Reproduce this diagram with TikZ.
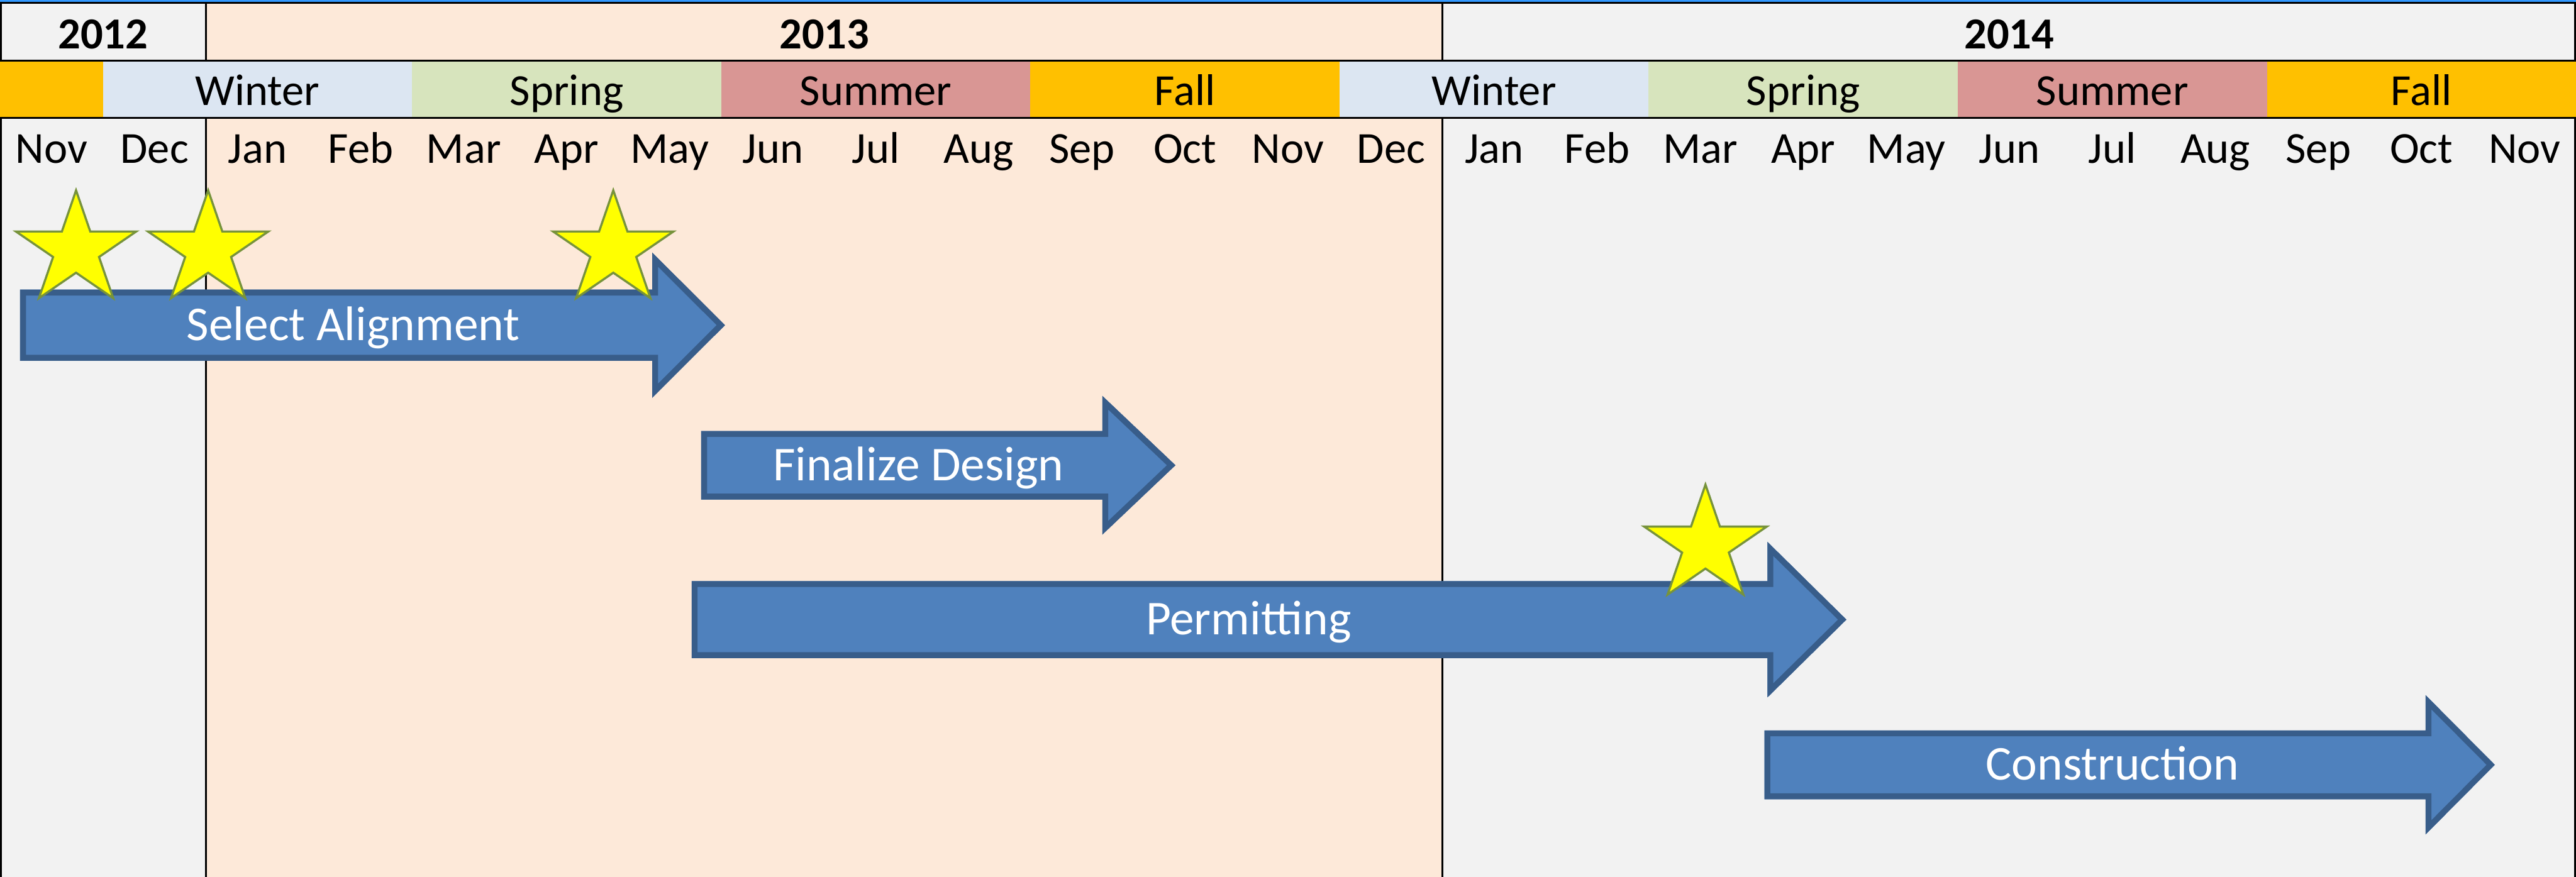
\documentclass[tikz,border=0pt]{standalone}
\usepackage{fontspec}
\setmainfont{Carlito}
\definecolor{topblue}{HTML}{3399FF}
\definecolor{greybg}{HTML}{F2F2F2}
\definecolor{peachbg}{HTML}{FDE9D9}
\definecolor{fallc}{HTML}{FFC000}
\definecolor{winterc}{HTML}{DCE6F2}
\definecolor{springc}{HTML}{D7E4BD}
\definecolor{summerc}{HTML}{D99694}
\definecolor{barfillc}{HTML}{4F81BD}
\definecolor{barlinec}{HTML}{385D8A}
\definecolor{starfillc}{HTML}{FFFF00}
\definecolor{starlinec}{HTML}{77933C}

\tikzset{
  monthlbl/.style={anchor=base, inner sep=0pt, font=\fontsize{27}{32}\selectfont},
  seasonlbl/.style={anchor=base, inner sep=0pt, font=\fontsize{27}{32}\selectfont},
  yearlbl/.style={anchor=base, inner sep=0pt, font=\fontsize{27}{32}\selectfont\bfseries},
  barlbl/.style={anchor=base, inner sep=0pt, text=white, font=\fontsize{29.6}{34}\selectfont},
  gridline/.style={black, line width=1.2pt},
  borderline/.style={black, line width=1.1pt},
  starstyle/.style={fill=starfillc, draw=starlinec, line width=1.3pt, line join=miter},
}

% block arrow: left x, head base x, tip x, centre y, half body height, half head height
\newcommand\blockarrow[6]{%
  \begin{scope}
    \clip (#1,#4-#5) -- (#2,#4-#5) -- (#2,#4-#6) -- (#3,#4) -- (#2,#4+#6) -- (#2,#4+#5) -- (#1,#4+#5) -- cycle;
    \fill[barfillc] (#1,#4-#5) -- (#2,#4-#5) -- (#2,#4-#6) -- (#3,#4) -- (#2,#4+#6) -- (#2,#4+#5) -- (#1,#4+#5) -- cycle;
    \draw[barlinec, line width=7.2pt, line join=miter] (#1,#4-#5) -- (#2,#4-#5) -- (#2,#4-#6) -- (#3,#4) -- (#2,#4+#6) -- (#2,#4+#5) -- (#1,#4+#5) -- cycle;
  \end{scope}}

% five-pointed milestone star: centre x, centre y, outer radius
\newcommand\milestar[3]{%
  \begin{scope}[shift={(#1,#2)}, xscale=1.06, yscale=-1]
    \draw[starstyle] (90:#3) \foreach \k in {1,...,9}{ -- ({90+36*\k}:{(1-0.618*mod(\k,2))*#3}) } -- cycle;
  \end{scope}}

\begin{document}
\begin{tikzpicture}[x=1pt, y=-1pt]
\useasboundingbox (0,0) rectangle (1568,534);

% backgrounds
\fill[topblue] (0,0) rectangle (1568,1.2);
\fill[greybg]  (0,1.2) rectangle (125.44,534);
\fill[peachbg] (125.44,1.2) rectangle (878.08,534);
\fill[greybg]  (878.08,1.2) rectangle (1568,534);

% season band
\foreach \a/\b/\c in {0/1/fallc, 1/4/winterc, 4/7/springc, 7/10/summerc, 10/13/fallc,
                      13/16/winterc, 16/19/springc, 19/22/summerc, 22/25/fallc}
  \fill[\c] ({62.72*\a},36.85) rectangle ({62.72*\b},71.8);

% grid lines
\draw[gridline] (0,1.8) -- (1568,1.8);
\draw[gridline] (0,36.85) -- (1568,36.85);
\draw[gridline] (0,71.8) -- (1568,71.8);
\foreach \x in {125.44, 878.08} {
  \draw[borderline] (\x,1.8) -- (\x,36.85);
  \draw[borderline] (\x,71.8) -- (\x,534);
}
\foreach \x in {0.55, 1567.45} {
  \draw[borderline] (\x,1.8) -- (\x,36.85);
  \draw[borderline] (\x,71.8) -- (\x,534);
}

% years
\node[yearlbl] (y2012) at (62.72,29.5) {2012};
\node[yearlbl] (y2013) at (501.76,29.5) {2013};
\node[yearlbl] (y2014) at (1223.04,29.5) {2014};

% seasons
\foreach \s/\a/\b [count=\i] in {Winter/1/4, Spring/4/7, Summer/7/10, Fall/10/13,
                                 Winter/13/16, Spring/16/19, Summer/19/22, Fall/22/25}
  \node[seasonlbl] (s\i) at ({62.72*(\a+\b)/2},64.3) {\s};

% months
\foreach \m [count=\i from 0] in {Nov,Dec,Jan,Feb,Mar,Apr,May,Jun,Jul,Aug,Sep,Oct,Nov,
                                  Dec,Jan,Feb,Mar,Apr,May,Jun,Jul,Aug,Sep,Oct,Nov}
  \node[monthlbl] (m\i) at ({31.36+62.72*\i},99.2) {\m};

% task bars
\blockarrow{12.2}{397}{441.3}{198}{21.65}{44.25}
\node[barlbl] (align) at (215,207.3) {Select Alignment};

\blockarrow{426.8}{671}{715.5}{283.3}{20.85}{42.25}
\node[barlbl] (design) at (559,292.6) {Finalize Design};

\blockarrow{421}{1075.8}{1123.9}{377.3}{23.45}{47.4}
\node[barlbl] (permit) at (760,386.6) {Permitting};

\blockarrow{1074}{1476.4}{1518.6}{465.7}{20.95}{42.45}
\node[barlbl] (build) at (1285.8,475) {Construction};

% milestones
\milestar{46.3}{152.2}{36.3}
\milestar{126.7}{152.2}{36.3}
\milestar{373.3}{152.2}{36.3}
\milestar{1038.1}{332.1}{37}
\end{tikzpicture}
\end{document}
